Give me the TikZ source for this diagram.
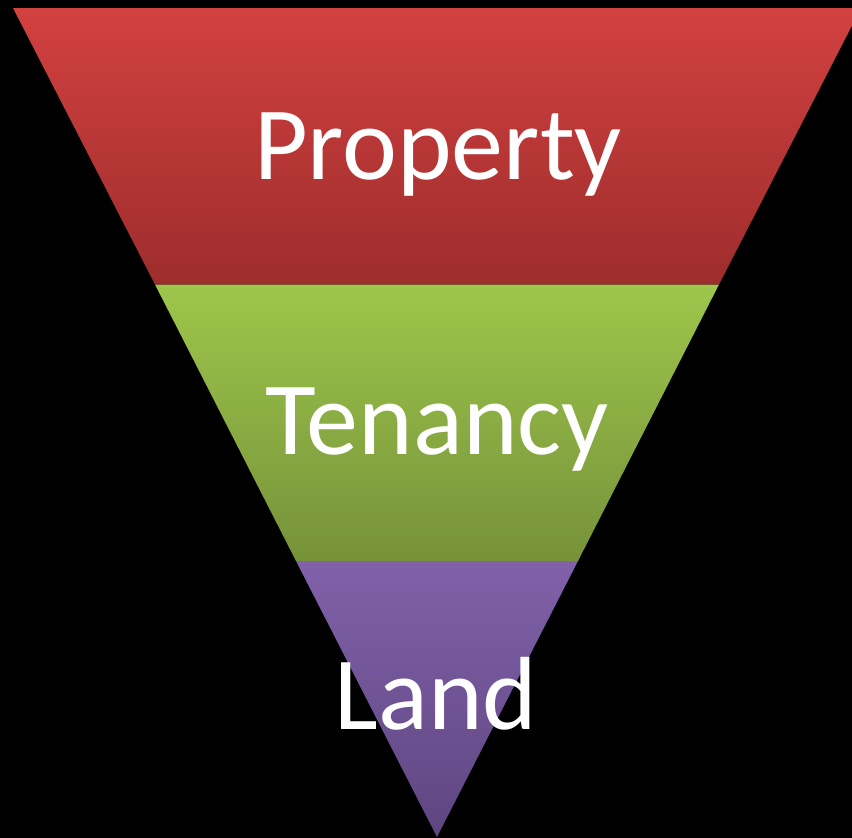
\documentclass[tikz,border=0pt]{standalone}
\usepackage{fontspec}
\setmainfont{Carlito}
\definecolor{redtop}{HTML}{D24140}
\definecolor{redbot}{HTML}{9D2D2C}
\definecolor{greentop}{HTML}{9EC64B}
\definecolor{greenbot}{HTML}{76923A}
\definecolor{purpletop}{HTML}{8161AA}
\definecolor{purplebot}{HTML}{5E4680}
\tikzset{
  band/.style={draw=none},
  label/.style={text=white, font=\fontsize{104}{104}\selectfont, anchor=base, inner sep=0pt}
}
\begin{document}
\begin{tikzpicture}[x=1pt,y=-1pt]
\useasboundingbox (0,0) rectangle (852,838);
\fill[black] (0,0) rectangle (852,838);
\coordinate (tl) at (13,8);
\coordinate (tr) at (861,8);
\coordinate (ml1) at (155,284.5);
\coordinate (mr1) at (719,284.5);
\coordinate (ml2) at (296,561);
\coordinate (mr2) at (578,561);
\coordinate (apex) at (437,837);
\shade[band, top color=redtop, bottom color=redbot] (tl) -- (tr) -- (mr1) -- (ml1) -- cycle;
\shade[band, top color=greentop, bottom color=greenbot] (ml1) -- (mr1) -- (mr2) -- (ml2) -- cycle;
\shade[band, top color=purpletop, bottom color=purplebot] (ml2) -- (mr2) -- (apex) -- cycle;
\node[label] (property) at (438,179) {Property};
\node[label] (tenancy) at (437,454) {Tenancy};
\node[label] (land) at (436,729) {Land};
\end{tikzpicture}
\end{document}
